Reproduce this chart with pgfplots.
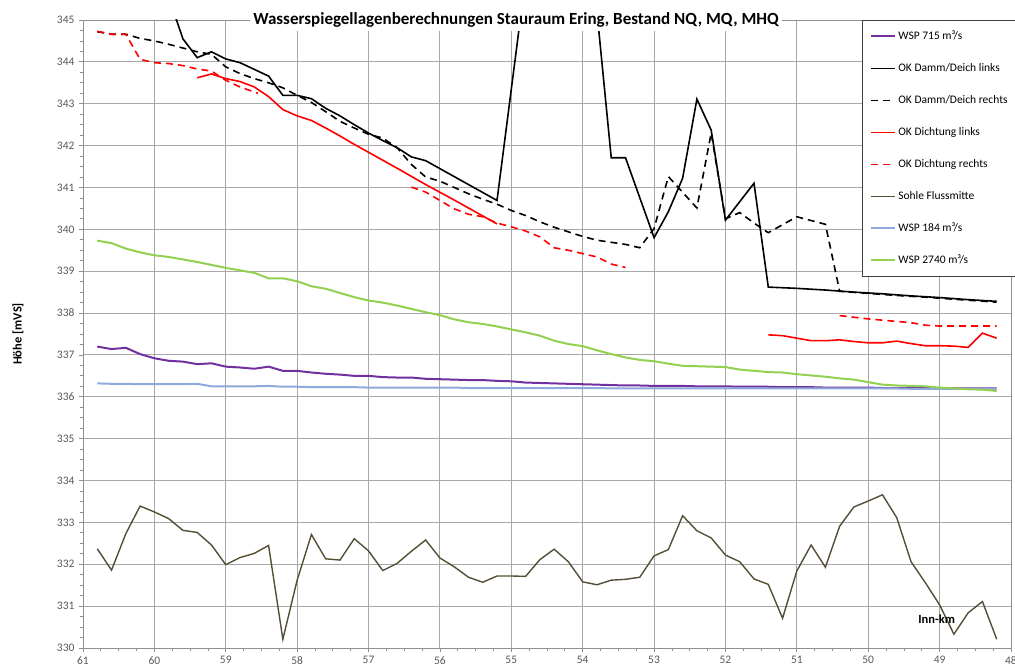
\documentclass[border=0pt]{standalone}
\usepackage{fontspec}
\setmainfont{Carlito}
\usepackage{pgfplots}
\usepackage{pgfplotstable}
\pgfplotsset{compat=1.18}

\definecolor{wspmq}{RGB}{112,48,160}
\definecolor{wspnq}{RGB}{142,169,219}
\definecolor{wsphq}{RGB}{146,208,80}
\definecolor{sohle}{RGB}{84,78,52}
\definecolor{gridgray}{RGB}{168,168,168}
\definecolor{ticktext}{RGB}{89,89,89}

% Flusssohle (Flussmitte), Inn-km / Höhe
\pgfplotstableread{
km h
60.8 332.37
60.6 331.86
60.4 332.73
60.2 333.39
60.0 333.25
59.8 333.09
59.6 332.81
59.4 332.76
59.2 332.46
59.0 331.99
58.8 332.16
58.6 332.26
58.4 332.45
58.2 330.21
58.0 331.62
57.8 332.71
57.6 332.13
57.4 332.10
57.2 332.61
57.0 332.32
56.8 331.85
56.6 332.02
56.4 332.31
56.2 332.58
56.0 332.15
55.8 331.94
55.6 331.69
55.4 331.57
55.2 331.72
55.0 331.72
54.8 331.71
54.6 332.11
54.4 332.36
54.2 332.06
54.0 331.58
53.8 331.51
53.6 331.62
53.4 331.64
53.2 331.69
53.0 332.20
52.8 332.35
52.6 333.16
52.4 332.80
52.2 332.63
52.0 332.22
51.8 332.06
51.6 331.65
51.4 331.52
51.2 330.71
51.0 331.84
50.8 332.46
50.6 331.93
50.4 332.91
50.2 333.37
50.0 333.51
49.8 333.66
49.6 333.11
49.4 332.06
49.2 331.56
49.0 331.03
48.8 330.33
48.6 330.84
48.4 331.11
48.2 330.21
}\sohletab

% Wasserspiegel: 184, 715 und 2740 m3/s
\pgfplotstableread{
km q184 q715 q2740
60.8 336.32 337.20 339.73
60.6 336.31 337.14 339.67
60.4 336.31 337.17 339.54
60.2 336.30 337.02 339.45
60.0 336.30 336.92 339.38
59.8 336.30 336.86 339.34
59.6 336.30 336.84 339.28
59.4 336.31 336.78 339.22
59.2 336.25 336.80 339.15
59.0 336.25 336.72 339.08
58.8 336.25 336.70 339.02
58.6 336.25 336.67 338.96
58.4 336.26 336.72 338.83
58.2 336.24 336.62 338.83
58.0 336.24 336.62 338.76
57.8 336.23 336.58 338.64
57.6 336.23 336.55 338.58
57.4 336.23 336.53 338.48
57.2 336.23 336.50 338.38
57.0 336.22 336.50 338.30
56.8 336.22 336.47 338.25
56.6 336.22 336.46 338.18
56.4 336.22 336.46 338.10
56.2 336.22 336.43 338.02
56.0 336.22 336.42 337.95
55.8 336.22 336.41 337.85
55.6 336.21 336.40 337.78
55.4 336.21 336.40 337.74
55.2 336.21 336.38 337.68
55.0 336.21 336.37 337.61
54.8 336.21 336.34 337.54
54.6 336.21 336.33 337.46
54.4 336.21 336.32 337.34
54.2 336.21 336.31 337.26
54.0 336.21 336.30 337.21
53.8 336.21 336.29 337.11
53.6 336.20 336.28 337.02
53.4 336.20 336.27 336.94
53.2 336.20 336.27 336.88
53.0 336.20 336.26 336.85
52.8 336.20 336.26 336.79
52.6 336.20 336.26 336.74
52.4 336.20 336.25 336.73
52.2 336.20 336.25 336.72
52.0 336.20 336.25 336.71
51.8 336.20 336.24 336.65
51.6 336.20 336.24 336.62
51.4 336.20 336.24 336.59
51.2 336.20 336.23 336.58
51.0 336.20 336.23 336.54
50.8 336.20 336.23 336.51
50.6 336.20 336.22 336.48
50.4 336.20 336.22 336.44
50.2 336.20 336.22 336.41
50.0 336.20 336.22 336.35
49.8 336.20 336.21 336.29
49.6 336.20 336.21 336.27
49.4 336.19 336.21 336.26
49.2 336.19 336.21 336.25
49.0 336.19 336.21 336.22
48.8 336.19 336.20 336.20
48.6 336.19 336.20 336.18
48.4 336.19 336.20 336.17
48.2 336.19 336.20 336.14
}\wsptab

% Oberkante Damm/Deich links
\pgfplotstableread{
km h
59.8 345.55
59.6 344.55
59.4 344.10
59.2 344.24
59.0 344.07
58.8 343.98
58.6 343.82
58.4 343.66
58.2 343.20
58.0 343.20
57.8 343.12
57.6 342.89
57.4 342.71
57.2 342.50
57.0 342.30
56.8 342.12
56.6 341.95
56.4 341.73
56.2 341.64
56.0 341.45
55.8 341.26
55.6 341.07
55.4 340.88
55.2 340.69
54.8 346.00
54.0 348.00
53.8 345.20
53.6 341.71
53.4 341.71
53.0 339.80
52.8 340.42
52.6 341.22
52.4 343.11
52.2 342.37
52.0 340.22
51.6 341.10
51.4 338.62
51.0 338.59
50.6 338.55
50.2 338.50
49.8 338.46
49.4 338.41
49.0 338.37
48.6 338.32
48.2 338.28
}\dammlinks

% Oberkante Damm/Deich rechts
\pgfplotstableread{
km h
60.8 344.72
60.6 344.66
60.4 344.66
60.2 344.56
60.0 344.50
59.8 344.42
59.6 344.33
59.4 344.24
59.2 344.18
59.0 343.88
58.8 343.72
58.6 343.60
58.4 343.50
58.2 343.38
58.0 343.20
57.8 343.03
57.6 342.81
57.4 342.58
57.2 342.42
57.0 342.27
56.8 342.18
56.6 341.95
56.4 341.55
56.2 341.25
56.0 341.15
55.8 341.00
55.6 340.85
55.4 340.72
55.2 340.60
55.0 340.45
54.8 340.33
54.6 340.18
54.4 340.05
54.2 339.94
54.0 339.83
53.8 339.74
53.6 339.69
53.4 339.64
53.2 339.56
53.0 340.02
52.8 341.26
52.4 340.51
52.2 342.30
52.0 340.25
51.8 340.40
51.6 340.15
51.4 339.92
51.0 340.30
50.6 340.12
50.4 338.52
50.0 338.47
49.6 338.42
49.2 338.38
48.8 338.33
48.2 338.26
}\dammrechts

% Oberkante Dichtung links (Lücke zwischen den Abschnitten)
\pgfplotstableread{
km h
59.4 343.62
59.2 343.71
59.0 343.60
58.8 343.53
58.6 343.40
58.4 343.17
58.2 342.86
58.0 342.71
57.8 342.60
57.6 342.42
57.4 342.23
57.2 342.03
57.0 341.84
56.6 341.46
56.2 341.07
55.8 340.70
55.4 340.32
55.2 340.13
53.0 nan
51.4 337.48
51.2 337.46
51.0 337.40
50.8 337.34
50.6 337.34
50.4 337.36
50.2 337.32
50.0 337.29
49.8 337.29
49.6 337.33
49.4 337.27
49.2 337.22
49.0 337.22
48.8 337.21
48.6 337.18
48.4 337.52
48.2 337.40
}\dichtlinks

% Oberkante Dichtung rechts (drei Abschnitte)
\pgfplotstableread{
km h
60.8 344.73
60.6 344.66
60.4 344.66
60.2 344.06
60.0 343.98
59.8 343.96
59.6 343.91
59.4 343.83
59.2 343.78
59.0 343.56
58.8 343.40
58.55 343.25
57.5 nan
56.4 341.01
56.2 340.89
56.0 340.69
55.8 340.49
55.6 340.36
55.4 340.30
55.2 340.15
55.0 340.06
54.8 339.96
54.6 339.82
54.4 339.56
54.2 339.50
54.0 339.42
53.8 339.34
53.6 339.17
53.4 339.09
52.0 nan
50.4 337.94
50.2 337.90
50.0 337.86
49.8 337.83
49.6 337.80
49.4 337.77
49.2 337.71
49.0 337.69
48.8 337.69
48.6 337.69
48.4 337.69
48.2 337.69
}\dichtrechts

\begin{document}
\begin{tikzpicture}
\begin{axis}[
  name=ax,
  scale only axis,
  width=928pt, height=628pt,
  x dir=reverse,
  xmin=48, xmax=61, ymin=330, ymax=345,
  xtick={48,...,61}, ytick={330,...,345},
  minor x tick num=3, minor y tick num=3,
  grid=major,
  major grid style={gridgray, line width=0.9pt},
  axis line style={gridgray!85!black, line width=0.9pt},
  tick pos=left,
  tick align=outside,
  major tick length=4pt, minor tick length=3pt,
  every tick/.style={gridgray!85!black, line width=0.8pt},
  tick label style={font=\fontsize{11.5}{13}\selectfont, text=ticktext},
  /pgf/number format/assume math mode=true,
  xticklabel style={yshift=-1pt},
  yticklabel style={xshift=-1pt},
  unbounded coords=jump,
  legend style={
    at={(rel axis cs:0.8394,1)}, anchor=north west,
    draw=black!75, fill=white, line width=0.8pt,
    font=\fontsize{11.5}{13}\selectfont,
    cells={anchor=west},
    row sep=16pt, inner xsep=8pt, inner ysep=8pt,
    nodes={inner sep=2pt, text height=9pt, text depth=3pt},
  },
  legend image code/.code={\draw[#1] (0pt,0pt) -- (24pt,0pt);},
]
\addplot[wspmq, line width=2pt] table[x=km, y=q715] {\wsptab};
\addlegendentry{WSP 715 m³/s}
\addplot[black, line width=1.6pt] table[x=km, y=h] {\dammlinks};
\addlegendentry{OK Damm/Deich links}
\addplot[black, line width=1.6pt, dash pattern=on 7pt off 5pt] table[x=km, y=h] {\dammrechts};
\addlegendentry{OK Damm/Deich rechts}
\addplot[red, line width=1.6pt] table[x=km, y=h] {\dichtlinks};
\addlegendentry{OK Dichtung links}
\addplot[red, line width=1.6pt, dash pattern=on 7pt off 5pt] table[x=km, y=h] {\dichtrechts};
\addlegendentry{OK Dichtung rechts}
\addplot[sohle, line width=1.4pt] table[x=km, y=h] {\sohletab};
\addlegendentry{Sohle Flussmitte}
\addplot[wspnq, line width=2pt] table[x=km, y=q184] {\wsptab};
\addlegendentry{WSP 184 m³/s}
\addplot[wsphq, line width=2pt] table[x=km, y=q2740] {\wsptab};
\addlegendentry{WSP 2740 m³/s}
\node[font=\bfseries\fontsize{12.5}{14}\selectfont] at (axis cs:49.04,330.69) {Inn-km};
\end{axis}
\node[fill=white, anchor=base, inner xsep=3pt, inner ysep=0pt, text height=14pt, text depth=6pt,
      font=\bfseries\fontsize{17}{20}\selectfont]
  at ([xshift=433pt, yshift=-5pt]ax.north west)
  {Wasserspiegellagenberechnungen Stauraum Ering, Bestand NQ, MQ, MHQ};
\node[rotate=90, font=\bfseries\fontsize{12.5}{14}\selectfont] at ([xshift=-65pt]ax.west) {Höhe [mVS]};
\pgfresetboundingbox
\useasboundingbox ([xshift=-83pt, yshift=-18pt]ax.south west) rectangle ([xshift=4pt, yshift=20pt]ax.north east);
\end{tikzpicture}
\end{document}
